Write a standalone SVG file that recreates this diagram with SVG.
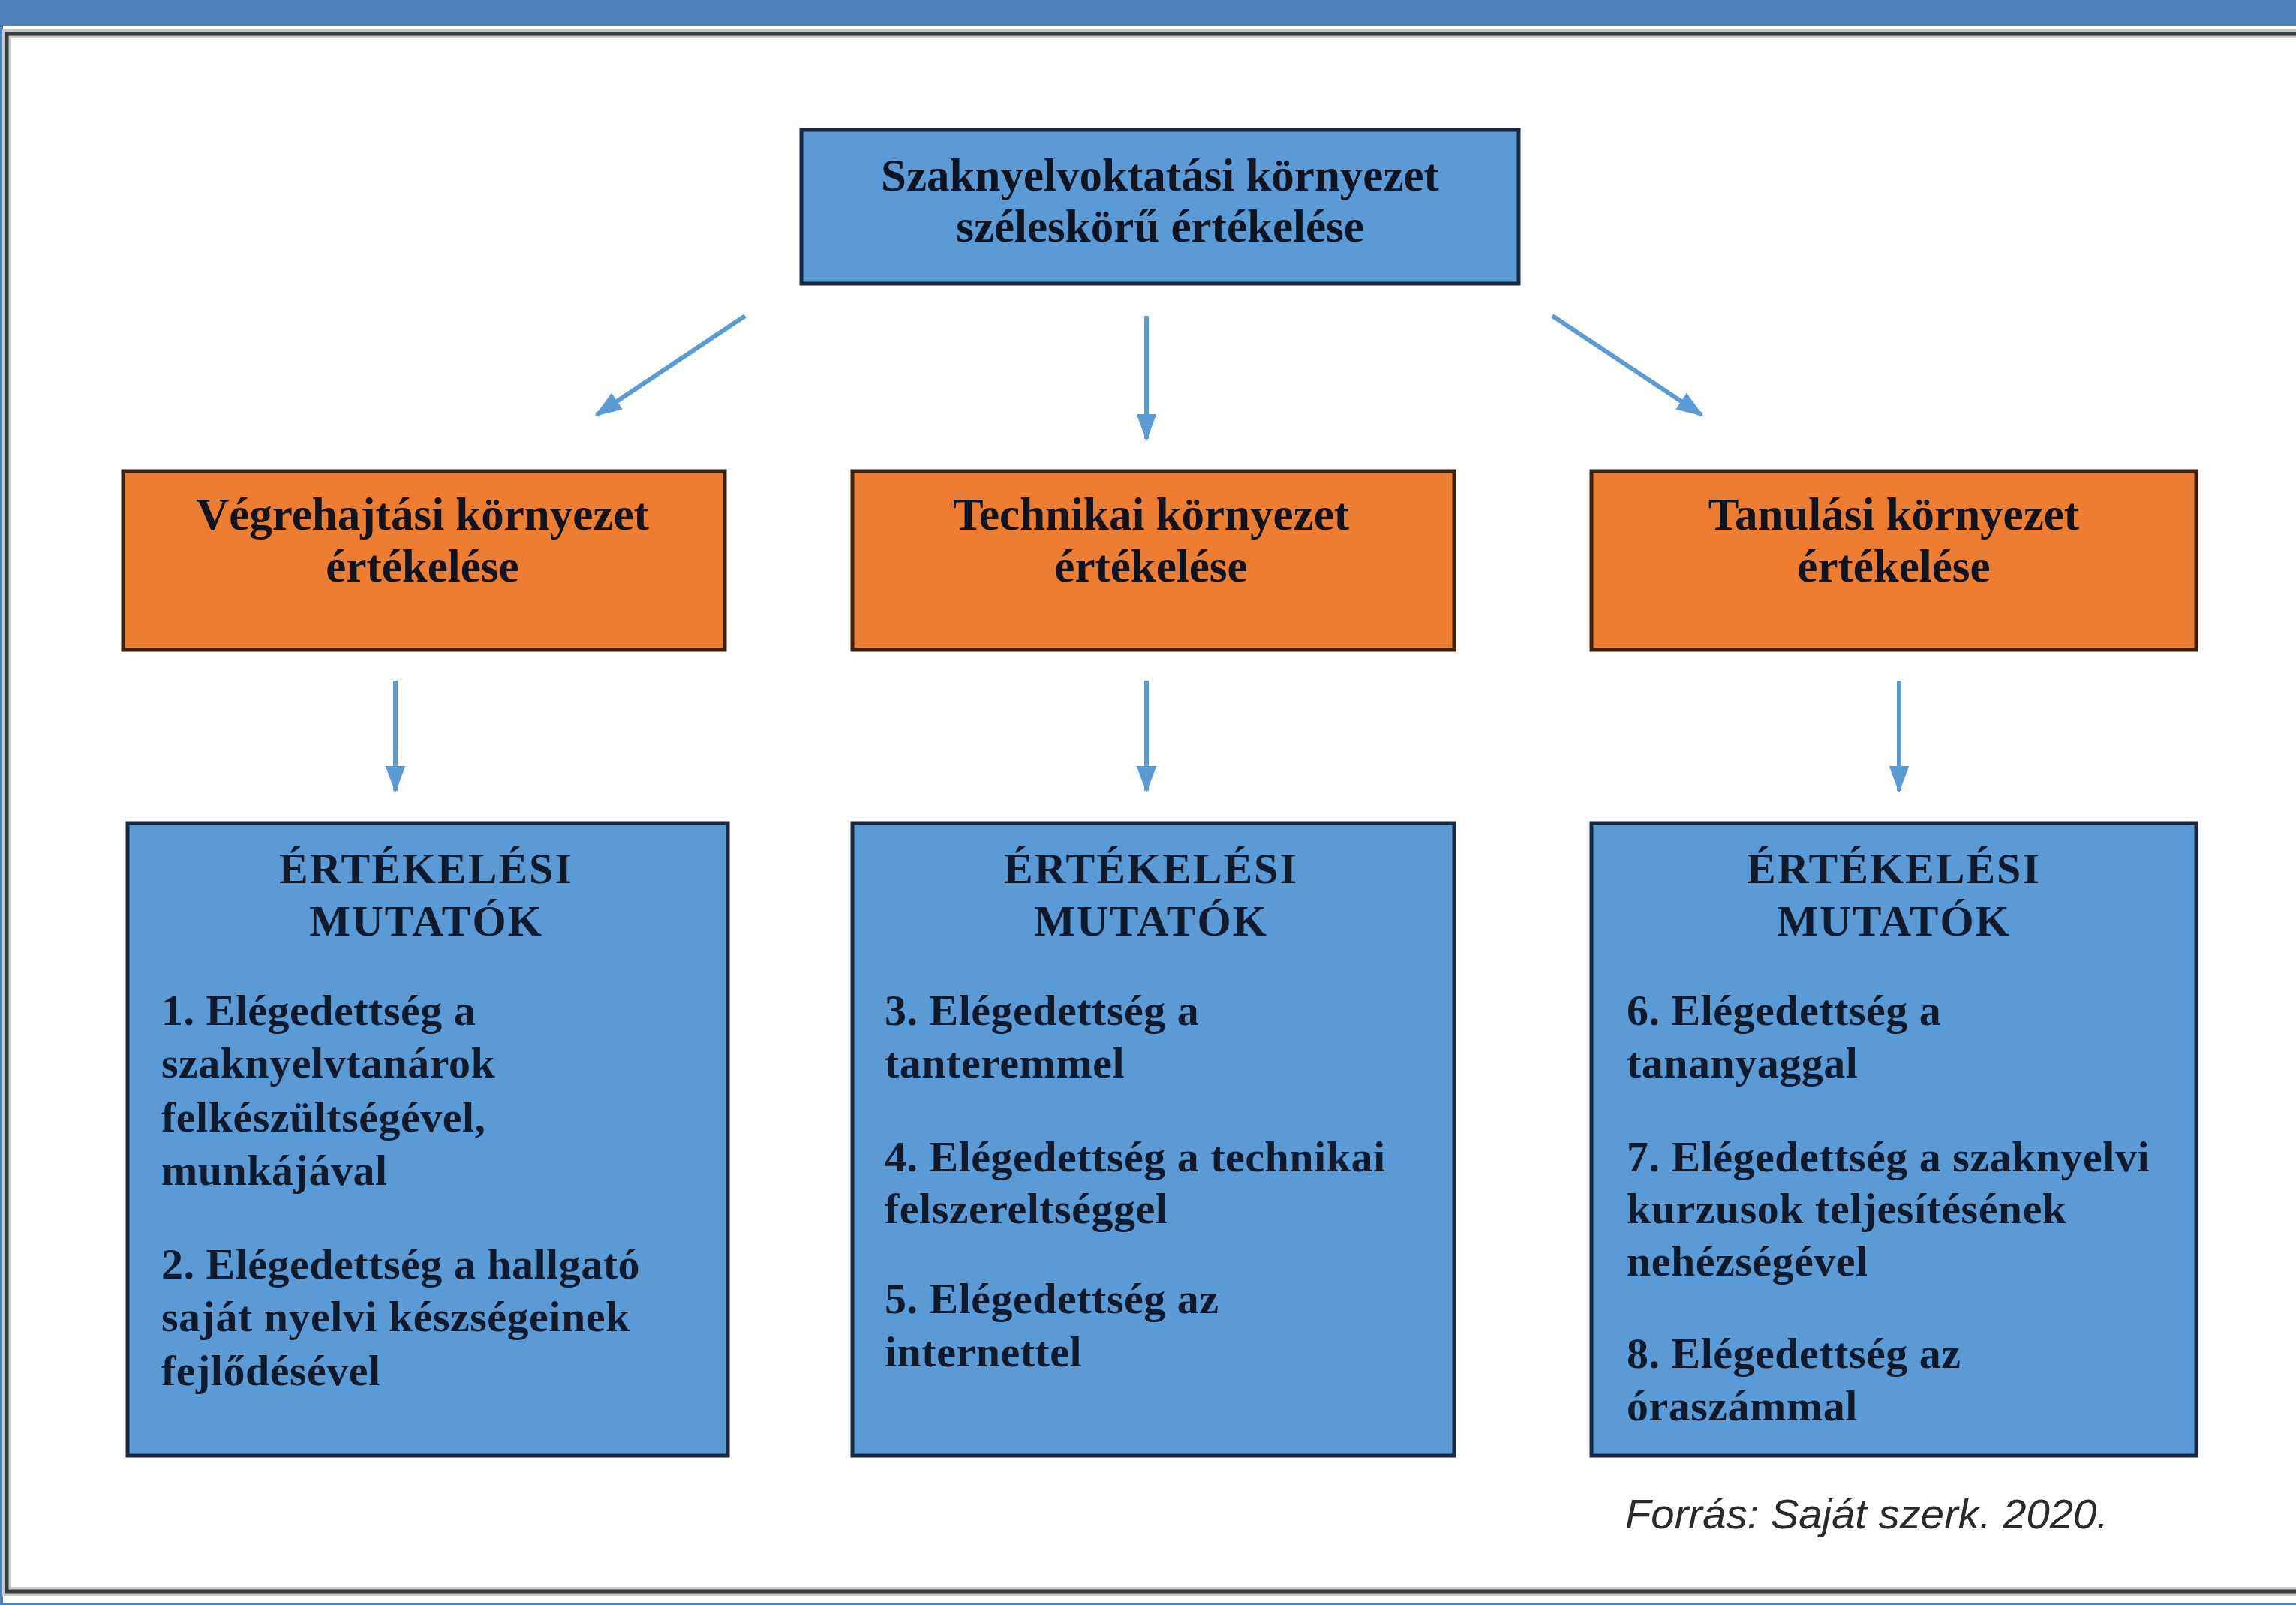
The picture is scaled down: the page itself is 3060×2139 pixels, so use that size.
<svg xmlns="http://www.w3.org/2000/svg" width="3060" height="2139" viewBox="0 0 3060 2139">
<defs>
<style>
.bluebox{fill:#5b9bd5;stroke:#1b2940;stroke-width:5}
.orangebox{fill:#ed7d31;stroke:#3a2210;stroke-width:5}
.head{font-family:"Liberation Serif","Times New Roman",serif;font-weight:bold;font-size:61px;text-anchor:middle;fill:#0e1420}
.headb{font-family:"Liberation Serif","Times New Roman",serif;font-weight:bold;font-size:58px;text-anchor:middle;fill:#0f1a2c;letter-spacing:2px}
.body{font-family:"Liberation Serif","Times New Roman",serif;font-weight:bold;font-size:58px;fill:#0f1a2c;letter-spacing:0.5px}
.conn{stroke:#5b9bd5;stroke-width:6;fill:none}
.src{font-family:"Liberation Sans",Arial,sans-serif;font-style:italic;font-size:56px;fill:#2a2a2a}
</style>
<marker id="ah" markerWidth="6" markerHeight="4.4" refX="5.5" refY="2.2" orient="auto" markerUnits="strokeWidth">
<path d="M0,0 L6,2.2 L0,4.4 Z" fill="#5b9bd5"/>
</marker>
</defs>
<rect x="0" y="0" width="3060" height="2139" fill="#ffffff"/>
<rect x="0" y="0" width="3060" height="34" fill="#4f81bd"/>
<rect x="0" y="0" width="4" height="2139" fill="#4f81bd"/>
<rect x="0" y="2136" width="3060" height="3" fill="#4f81bd"/>
<g id="frame">
<rect x="9" y="45" width="3080" height="2076" fill="none" stroke="#c8c8c8" stroke-width="12"/>
<rect x="9" y="45" width="3080" height="2076" fill="none" stroke="#3c3c3c" stroke-width="5"/>
</g>
<g id="connectors">
<line class="conn" x1="993" y1="421" x2="795" y2="553" marker-end="url(#ah)"/>
<line class="conn" x1="1528" y1="421" x2="1528" y2="585" marker-end="url(#ah)"/>
<line class="conn" x1="2069" y1="421" x2="2268" y2="553" marker-end="url(#ah)"/>
<line class="conn" x1="527" y1="907" x2="527" y2="1054" marker-end="url(#ah)"/>
<line class="conn" x1="1528" y1="907" x2="1528" y2="1054" marker-end="url(#ah)"/>
<line class="conn" x1="2531" y1="907" x2="2531" y2="1054" marker-end="url(#ah)"/>
</g>
<g id="top">
<rect class="bluebox" x="1068" y="173" width="956" height="205"/>
<text class="head" x="1546" y="254">Szaknyelvoktatási környezet</text>
<text class="head" x="1546" y="322">széleskörű értékelése</text>
</g>
<g id="vegrehajtasi">
<rect class="orangebox" x="164" y="628" width="802" height="238"/>
<text class="head" x="563" y="706">Végrehajtási környezet</text>
<text class="head" x="563" y="775">értékelése</text>
</g>
<g id="technikai">
<rect class="orangebox" x="1136" y="628" width="802" height="238"/>
<text class="head" x="1534" y="706">Technikai környezet</text>
<text class="head" x="1534" y="775">értékelése</text>
</g>
<g id="tanulasi">
<rect class="orangebox" x="2121" y="628" width="806" height="238"/>
<text class="head" x="2524" y="706">Tanulási környezet</text>
<text class="head" x="2524" y="775">értékelése</text>
</g>
<g id="mutatok1">
<rect class="bluebox" x="170" y="1097" width="800" height="843"/>
<text class="headb" x="568" y="1177">ÉRTÉKELÉSI</text>
<text class="headb" x="568" y="1247">MUTATÓK</text>
<text class="body" x="215" y="1366">1. Elégedettség a</text>
<text class="body" x="215" y="1436">szaknyelvtanárok</text>
<text class="body" x="215" y="1508">felkészültségével,</text>
<text class="body" x="215" y="1579">munkájával</text>
<text class="body" x="215" y="1704">2. Elégedettség a hallgató</text>
<text class="body" x="215" y="1774">saját nyelvi készségeinek</text>
<text class="body" x="215" y="1846">fejlődésével</text>
</g>
<g id="mutatok2">
<rect class="bluebox" x="1136" y="1097" width="802" height="843"/>
<text class="headb" x="1534" y="1177">ÉRTÉKELÉSI</text>
<text class="headb" x="1534" y="1247">MUTATÓK</text>
<text class="body" x="1179" y="1366">3. Elégedettség a</text>
<text class="body" x="1179" y="1436">tanteremmel</text>
<text class="body" x="1179" y="1561">4. Elégedettség a technikai</text>
<text class="body" x="1179" y="1630">felszereltséggel</text>
<text class="body" x="1179" y="1750">5. Elégedettség az</text>
<text class="body" x="1179" y="1821">internettel</text>
</g>
<g id="mutatok3">
<rect class="bluebox" x="2121" y="1097" width="806" height="843"/>
<text class="headb" x="2524" y="1177">ÉRTÉKELÉSI</text>
<text class="headb" x="2524" y="1247">MUTATÓK</text>
<text class="body" x="2168" y="1366">6. Elégedettség a</text>
<text class="body" x="2168" y="1436">tananyaggal</text>
<text class="body" x="2168" y="1561">7. Elégedettség a szaknyelvi</text>
<text class="body" x="2168" y="1630">kurzusok teljesítésének</text>
<text class="body" x="2168" y="1700">nehézségével</text>
<text class="body" x="2168" y="1823">8. Elégedettség az</text>
<text class="body" x="2168" y="1893">óraszámmal</text>
</g>
<g id="source">
<text class="src" x="2166" y="2037" textLength="644" lengthAdjust="spacingAndGlyphs">Forrás: Saját szerk. 2020.</text>
</g>
</svg>
